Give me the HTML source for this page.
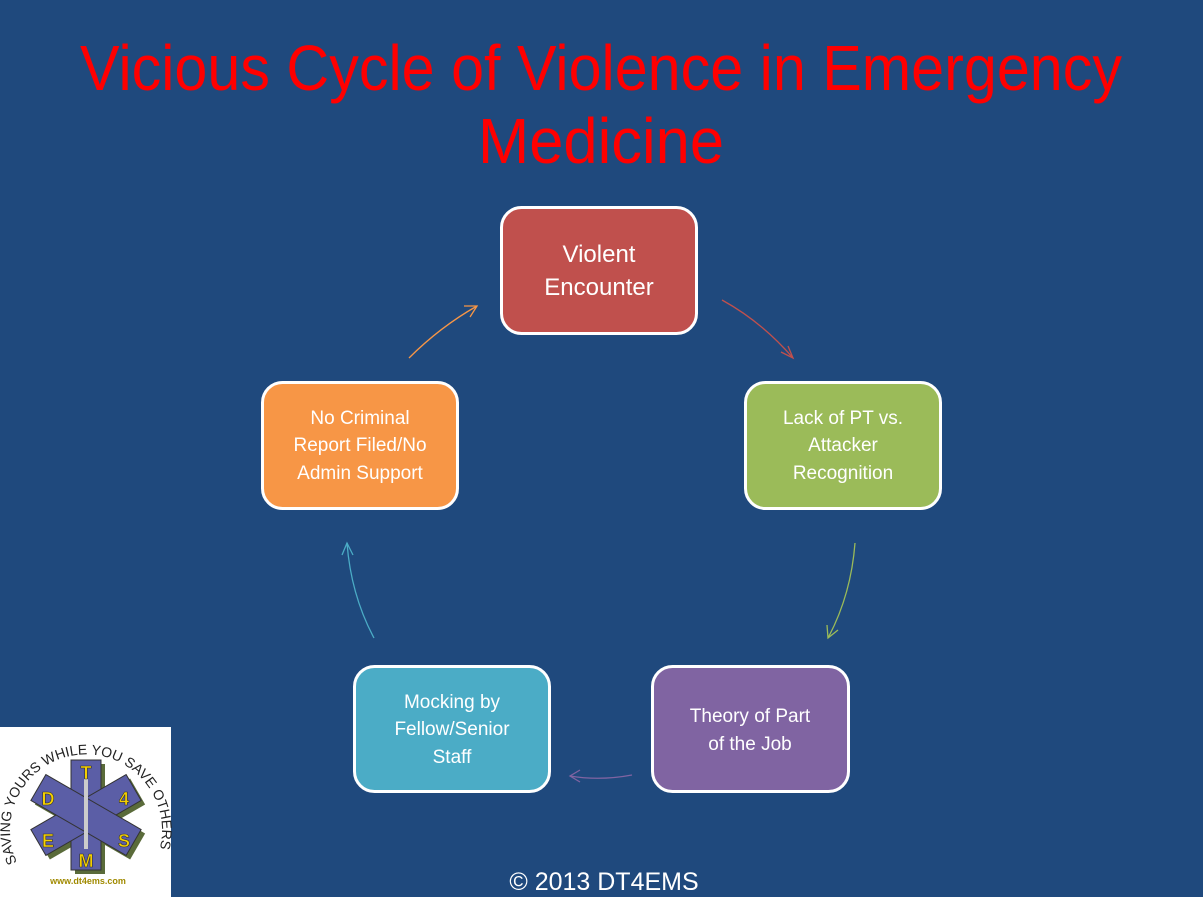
<!DOCTYPE html>
<html><head><meta charset="utf-8"><style>
html,body{margin:0;padding:0;background:#1f497d;}
svg{display:block}
</style></head><body>
<svg width="1203" height="897" viewBox="0 0 1203 897" xmlns="http://www.w3.org/2000/svg" font-family="Liberation Sans, sans-serif">
<rect width="1203" height="897" fill="#1f497d"/>
<text x="80" y="90" font-size="64" fill="#ff0000" textLength="1042" lengthAdjust="spacingAndGlyphs">Vicious Cycle of Violence in Emergency</text>
<text x="478" y="163" font-size="64" fill="#ff0000" textLength="246" lengthAdjust="spacingAndGlyphs">Medicine</text>

<g stroke="#fff" stroke-width="3">
<rect x="501.5" y="207.5" width="195" height="126" rx="20" fill="#c0504d"/>
<rect x="745.5" y="382.5" width="195" height="126" rx="20" fill="#9bbb59"/>
<rect x="652.5" y="666.5" width="196" height="125" rx="20" fill="#8064a2"/>
<rect x="354.5" y="666.5" width="195" height="125" rx="20" fill="#4bacc6"/>
<rect x="262.5" y="382.5" width="195" height="126" rx="20" fill="#f79646"/>
</g>

<g fill="#fff" text-anchor="middle">
<text x="599" y="262" font-size="24">Violent</text>
<text x="599" y="295" font-size="24">Encounter</text>
<g font-size="19">
<text x="843" y="424">Lack of PT vs.</text>
<text x="843" y="451">Attacker</text>
<text x="843" y="479">Recognition</text>
<text x="750" y="722">Theory of Part</text>
<text x="750" y="750">of the Job</text>
<text x="452" y="708">Mocking by</text>
<text x="452" y="735">Fellow/Senior</text>
<text x="452" y="763">Staff</text>
<text x="360" y="424">No Criminal</text>
<text x="360" y="451">Report Filed/No</text>
<text x="360" y="479">Admin Support</text>
</g>
</g>

<g fill="none" stroke-width="1.3">
<path d="M722 300 Q762 322 793 358" stroke="#c0504d"/>
<path d="M781 352 L793 358 L788 346" stroke="#c0504d"/>
<path d="M855 543 Q851 595 828 638" stroke="#9bbb59"/>
<path d="M827 625 L828 638 L838 630" stroke="#9bbb59"/>
<path d="M632 775 Q600 781 570 776" stroke="#8064a2"/>
<path d="M580 770 L570 776 L580 782" stroke="#8064a2"/>
<path d="M374 638 Q351 595 347 543" stroke="#4bacc6"/>
<path d="M342 555 L347 543 L353 555" stroke="#4bacc6"/>
<path d="M409 358 Q440 327 477 306" stroke="#f79646"/>
<path d="M464 306 L477 306 L470 317" stroke="#f79646"/>
</g>

<text x="604" y="890" font-size="25" fill="#fff" text-anchor="middle">© 2013 DT4EMS</text>

<rect x="0" y="727" width="171" height="170" fill="#fff"/>
<g transform="translate(86,815)">
<g fill="#5a6b3a" transform="translate(4,4)">
<rect x="-15" y="-55" width="30" height="110"/>
<rect x="-15" y="-55" width="30" height="110" transform="rotate(60)"/>
<rect x="-15" y="-55" width="30" height="110" transform="rotate(-60)"/>
</g>
<g fill="#5b5ea6" stroke="#333" stroke-width="1">
<rect x="-15" y="-55" width="30" height="110"/>
<rect x="-15" y="-55" width="30" height="110" transform="rotate(60)"/>
<rect x="-15" y="-55" width="30" height="110" transform="rotate(-60)"/>
</g>
<line x1="0" y1="-36" x2="0" y2="34" stroke="#ccc" stroke-width="4"/>
<g fill="#f5d000" font-weight="bold" font-size="18" text-anchor="middle" stroke="#333" stroke-width="0.6">
<text x="0" y="-36">T</text>
<text x="-38" y="-10">D</text>
<text x="38" y="-10">4</text>
<text x="-38" y="32">E</text>
<text x="38" y="32">S</text>
<text x="0" y="52">M</text>
</g>
</g>
<defs><path id="arc" d="M20 868 A76 76 0 1 1 152 868"/></defs>
<text font-size="14" fill="#222"><textPath href="#arc" startOffset="2%">SAVING YOURS WHILE YOU SAVE OTHERS</textPath></text>
<text x="88" y="884" font-size="9" font-weight="bold" fill="#a08a00" text-anchor="middle">www.dt4ems.com</text>
</svg>
</body></html>
